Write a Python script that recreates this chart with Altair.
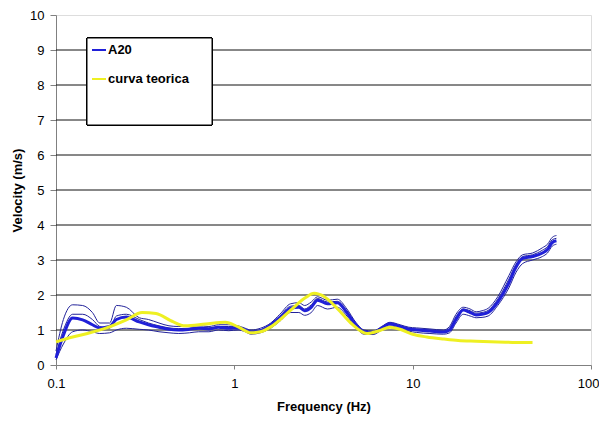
import altair as alt
import pandas as pd

# ---- data ----
freq = [0.1, 0.11, 0.124, 0.141, 0.16, 0.176, 0.2, 0.218, 0.248, 0.293, 0.33, 0.378, 0.43, 0.488,
        0.56, 0.631, 0.72, 0.814, 0.93, 1.05, 1.15, 1.24, 1.4, 1.6, 1.8, 2.07, 2.3, 2.48, 2.7, 2.93,
        3.33, 3.78, 4.28, 4.8, 5.33, 6.0, 6.7, 7.45, 8.5, 9.5, 10.5, 12.5, 14.9, 16.1, 17.5, 19.2,
        21, 22.7, 24.5, 26.5, 30, 34.6, 38, 41.4, 47, 53.4, 57, 60.7, 64]
a20_main = [0.2, 0.85, 1.34, 1.29, 1.15, 1.06, 1.1, 1.3, 1.37, 1.23, 1.15, 1.08, 1.02, 1.0,
            1.02, 1.05, 1.03, 1.08, 1.05, 1.06, 1.0, 0.94, 0.98, 1.14, 1.35, 1.62, 1.65, 1.55, 1.65, 1.85,
            1.75, 1.78, 1.49, 1.15, 0.94, 0.92, 1.05, 1.18, 1.1, 1.03, 1.0, 0.97, 0.94, 1.0, 1.3, 1.57,
            1.5, 1.43, 1.45, 1.5, 1.8, 2.34, 2.8, 3.05, 3.1, 3.2, 3.3, 3.5, 3.55]
a20_hi = [0.4, 1.3, 1.72, 1.7, 1.5, 1.2, 1.2, 1.7, 1.65, 1.35, 1.3, 1.2, 1.12, 1.1,
          1.1, 1.12, 1.1, 1.15, 1.15, 1.12, 1.05, 1.0, 1.05, 1.2, 1.45, 1.75, 1.78, 1.7, 1.8, 1.95,
          1.85, 1.88, 1.6, 1.22, 1.0, 0.97, 1.1, 1.22, 1.15, 1.08, 1.06, 1.03, 1.0, 1.1, 1.45, 1.65,
          1.6, 1.52, 1.55, 1.62, 1.95, 2.55, 2.95, 3.15, 3.2, 3.35, 3.45, 3.65, 3.7]
a20_lo = [0.15, 0.6, 0.95, 1.0, 0.95, 0.9, 0.92, 1.0, 1.05, 1.02, 1.0, 0.95, 0.92, 0.9,
          0.92, 0.95, 0.95, 1.0, 0.98, 1.0, 0.95, 0.88, 0.92, 1.05, 1.25, 1.5, 1.5, 1.42, 1.5, 1.7,
          1.6, 1.65, 1.4, 1.08, 0.88, 0.87, 1.0, 1.12, 1.05, 0.97, 0.93, 0.9, 0.88, 0.92, 1.2, 1.45,
          1.4, 1.35, 1.36, 1.4, 1.7, 2.2, 2.65, 2.9, 3.0, 3.1, 3.2, 3.4, 3.45]
a20_mid = [0.3, 1.0, 1.45, 1.45, 1.3, 1.1, 1.05, 1.4, 1.45, 1.3, 1.2, 1.12, 1.06, 1.04,
           1.05, 1.08, 1.06, 1.1, 1.1, 1.08, 1.02, 0.96, 1.0, 1.17, 1.4, 1.68, 1.7, 1.6, 1.72, 1.9,
           1.8, 1.82, 1.55, 1.18, 0.97, 0.95, 1.08, 1.2, 1.12, 1.05, 1.03, 1.0, 0.97, 1.05, 1.38, 1.6,
           1.55, 1.48, 1.5, 1.56, 1.88, 2.45, 2.88, 3.1, 3.15, 3.28, 3.38, 3.58, 3.62]

teo_freq = [0.1, 0.124, 0.15, 0.192, 0.248, 0.304, 0.364, 0.447, 0.53, 0.69, 0.89, 1.05, 1.24, 1.4,
            1.6, 2.07, 2.5, 2.8, 3.2, 3.8, 4.5, 5.55, 6.5, 7.45, 8.5, 10, 12, 15, 18, 22.7, 30, 41.4, 47]
teo_vel = [0.66, 0.8, 0.9, 1.06, 1.29, 1.5, 1.47, 1.25, 1.12, 1.17, 1.22, 1.09, 0.92, 0.95,
           1.09, 1.57, 1.92, 2.05, 1.95, 1.6, 1.2, 0.9, 0.98, 1.08, 1.02, 0.88, 0.8, 0.74, 0.7, 0.68,
           0.66, 0.64, 0.64]

grid_vals = [1, 2, 3, 4, 5, 6, 7, 8, 9]
y_ticks = [0, 1, 2, 3, 4, 5, 6, 7, 8, 9, 10]
x_ticks = [0.1, 1, 10, 100]

thin_rows = []
for name, vals in [("hi", a20_hi), ("lo", a20_lo), ("mid", a20_mid)]:
    for f, v in zip(freq, vals):
        thin_rows.append({"freq": f, "vel": v, "run": name})
thin_df = pd.DataFrame(thin_rows)
main_df = pd.DataFrame({"freq": freq, "vel": a20_main})
teo_df = pd.DataFrame({"freq": teo_freq, "vel": teo_vel})
grid_df = pd.DataFrame({"vel": grid_vals})

FONT = "Liberation Sans"

xenc = alt.X("freq:Q",
             scale=alt.Scale(type="log", domain=[0.1, 100], nice=False),
             axis=alt.Axis(values=x_ticks, format="~g", title="Frequency (Hz)", grid=False,
                           tickSize=4, labelPadding=8, titlePadding=10, labelFlush=False,
                           labelOverlap=False,
                           labelAlign={"condition": {"test": "datum.value >= 100", "value": "right"},
                                       "value": "center"},
                           labelOffset={"condition": {"test": "datum.value >= 100", "value": 8},
                                        "value": 0},
                           domainColor="#808080", tickColor="#808080",
                           labelFont=FONT, labelFontSize=13, labelColor="#000",
                           titleFont=FONT, titleFontSize=13, titleFontWeight="bold", titleColor="#000"))
yenc = alt.Y("vel:Q",
             scale=alt.Scale(domain=[0, 10], nice=False),
             axis=alt.Axis(values=y_ticks, title="Velocity (m/s)", grid=False,
                           tickSize=6, labelPadding=6, titlePadding=5, labelFlush=False,
                           labelOverlap=False,
                           domainColor="#808080", tickColor="#808080",
                           labelFont=FONT, labelFontSize=13, labelColor="#000",
                           titleFont=FONT, titleFontSize=13, titleFontWeight="bold", titleColor="#000"))

grid = alt.Chart(grid_df).mark_rule(color="#111", strokeWidth=1).encode(y=yenc)

thin = alt.Chart(thin_df).mark_line(color="#22229a", strokeWidth=1, interpolate="monotone").encode(
    x=xenc, y=yenc, detail="run:N")
main = alt.Chart(main_df).mark_line(color="#2020d8", strokeWidth=3, interpolate="monotone").encode(
    x=xenc, y=yenc)
teo = alt.Chart(teo_df).mark_line(color="#eef022", strokeWidth=3, interpolate="monotone").encode(
    x=xenc, y=yenc)

# legend box (decoration)
leg_box = alt.Chart(grid_df).mark_rect(fill="white", stroke="#000", strokeWidth=1).encode(
    x=alt.value(31), x2=alt.value(156), y=alt.value(23), y2=alt.value(110))
leg_l1 = alt.Chart(grid_df).mark_rule(color="#2020d8", strokeWidth=2).encode(
    x=alt.value(36), x2=alt.value(50), y=alt.value(35))
leg_l2 = alt.Chart(grid_df).mark_rule(color="#eef022", strokeWidth=2).encode(
    x=alt.value(36), x2=alt.value(50), y=alt.value(64))
leg_t1 = alt.Chart(pd.DataFrame({"t": ["A20"]})).mark_text(
    align="left", baseline="middle", font=FONT, fontSize=13, fontWeight="bold", color="#000").encode(
    x=alt.value(52), y=alt.value(35), text="t:N")
leg_t2 = alt.Chart(pd.DataFrame({"t": ["curva teorica"]})).mark_text(
    align="left", baseline="middle", font=FONT, fontSize=13, fontWeight="bold", color="#000").encode(
    x=alt.value(52), y=alt.value(64), text="t:N")

chart = alt.layer(grid, thin, main, teo, leg_box, leg_l1, leg_l2, leg_t1, leg_t2).properties(
    width=535, height=350,
    autosize=alt.AutoSizeParams(type="none"),
    padding={"left": 48, "top": 7, "right": 8, "bottom": 55},
).configure_view(fill="#c0c0c0", stroke=None).configure(background="white")

chart.save("out.html", embed_options={"renderer": "svg", "actions": False})
